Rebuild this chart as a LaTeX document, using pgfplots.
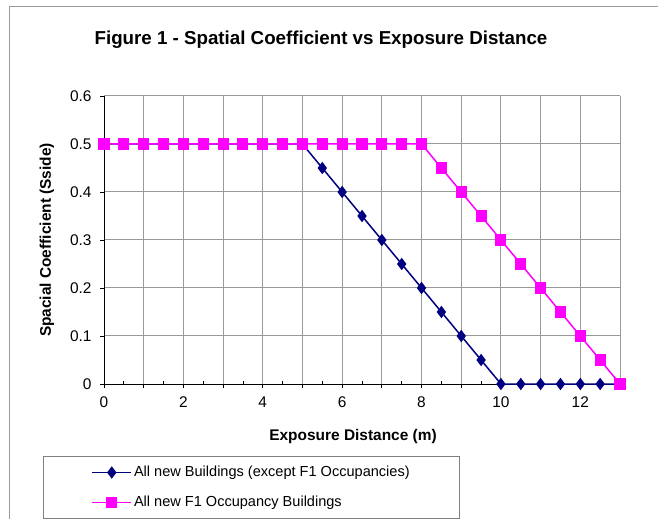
\documentclass[border=0pt]{standalone}
\usepackage{fontspec}
\setmainfont{Liberation Sans}
\usepackage{pgfplots}
\pgfplotsset{compat=1.18}
\definecolor{navyline}{HTML}{000080}
\definecolor{pinkline}{HTML}{FF00FF}
\definecolor{gridgray}{HTML}{999999}

\begin{document}
\begin{tikzpicture}
\useasboundingbox (0,0) rectangle (658bp,519bp);
% chart area border (left and top only are visible)
\draw[gridgray, line width=1bp] (9bp,-2bp) -- (9bp,512bp) -- (662bp,512bp);
\node[font=\bfseries\fontsize{18.8}{22}\selectfont] at (321bp,479bp)
  {Figure 1 - Spatial Coefficient vs Exposure Distance};

\begin{axis}[
  at={(104bp,135bp)}, anchor=south west,
  scale only axis, width=516bp, height=288bp,
  xmin=0, xmax=13, ymin=0, ymax=0.6,
  clip=false,
  axis x line*=bottom, axis y line*=left,
  axis line style={black, line width=1bp},
  xtick={0,...,13},
  xticklabels={0,,2,,4,,6,,8,,10,,12,},
  ytick={0,0.1,0.2,0.3,0.4,0.5,0.6},
  minor x tick num=1,
  tick align=outside,
  major tick length=4bp, minor tick length=3bp,
  every minor tick/.append style={yshift=3bp},
  tick style={black, line width=0.8bp},
  xmajorgrids, ymajorgrids,
  grid style={gridgray, line width=1bp},
  tick label style={font=\fontsize{15.5}{17}\selectfont},
  xticklabel style={yshift=-5bp},
  yticklabel style={xshift=-5bp},
  /pgf/number format/assume math mode=true,
  xlabel={Exposure Distance (m)},
  ylabel={Spacial Coefficient (Sside)},
  label style={font=\bfseries\fontsize{15.5}{18}\selectfont},
  xlabel style={at={(axis description cs:0.4826,-0.184)}, anchor=center},
  ylabel style={at={(axis description cs:-0.1105,0.5)}, anchor=center},
  legend cell align=left,
  legend image code/.code={
    \draw[mark repeat=2, mark phase=2] plot coordinates {(0bp,0bp) (19.5bp,0bp) (39bp,0bp)};
  },
  legend style={
    at={(axis description cs:-0.1182,-0.25)}, anchor=north west,
    draw=gray, line width=1bp,
    inner xsep=48bp, inner ysep=7bp, row sep=12bp,
    font=\fontsize{14.6}{16}\selectfont,
    nodes={inner sep=2bp, text height=11bp, text depth=3bp},
  },
]
\addplot[color=navyline, line width=1.5bp, mark=diamond*, mark size=5bp,
  mark options={solid, fill=navyline}]
  table[row sep=crcr]{
0 0.5\\ 0.5 0.5\\ 1 0.5\\ 1.5 0.5\\ 2 0.5\\ 2.5 0.5\\ 3 0.5\\ 3.5 0.5\\
4 0.5\\ 4.5 0.5\\ 5 0.5\\ 5.5 0.45\\ 6 0.4\\ 6.5 0.35\\ 7 0.3\\ 7.5 0.25\\
8 0.2\\ 8.5 0.15\\ 9 0.1\\ 9.5 0.05\\ 10 0\\ 10.5 0\\ 11 0\\ 11.5 0\\
12 0\\ 12.5 0\\ 13 0\\
};
\addlegendentry{All new Buildings (except F1 Occupancies)}
\addplot[color=pinkline, line width=1.5bp, mark=square*, mark size=4.8bp,
  mark options={solid, fill=pinkline}]
  table[row sep=crcr]{
0 0.5\\ 0.5 0.5\\ 1 0.5\\ 1.5 0.5\\ 2 0.5\\ 2.5 0.5\\ 3 0.5\\ 3.5 0.5\\
4 0.5\\ 4.5 0.5\\ 5 0.5\\ 5.5 0.5\\ 6 0.5\\ 6.5 0.5\\ 7 0.5\\ 7.5 0.5\\
8 0.5\\ 8.5 0.45\\ 9 0.4\\ 9.5 0.35\\ 10 0.3\\ 10.5 0.25\\ 11 0.2\\
11.5 0.15\\ 12 0.1\\ 12.5 0.05\\ 13 0\\
};
\addlegendentry{All new F1 Occupancy Buildings}
\end{axis}
\end{tikzpicture}
\end{document}
